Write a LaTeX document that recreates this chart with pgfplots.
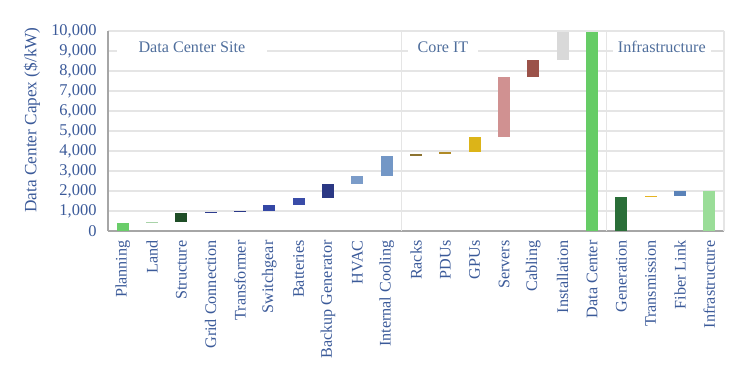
\documentclass[border=0pt]{standalone}
\usepackage{fontspec}
\setmainfont{Liberation Serif}
\usepackage{pgfplots}
\pgfplotsset{compat=1.18}
\definecolor{txt}{HTML}{3B5A99}
\definecolor{grp}{HTML}{4F6E9C}
\definecolor{cPlan}{HTML}{6ACD6A}
\definecolor{cLand}{HTML}{A9D3A9}
\definecolor{cStruct}{HTML}{1E4D26}
\definecolor{cGrid}{HTML}{2E3D8F}
\definecolor{cTrans}{HTML}{2A3888}
\definecolor{cSwitch}{HTML}{3447A5}
\definecolor{cBatt}{HTML}{3A4CA8}
\definecolor{cBackup}{HTML}{2B3884}
\definecolor{cHVAC}{HTML}{7B9CC9}
\definecolor{cCool}{HTML}{7397C6}
\definecolor{cRacks}{HTML}{8C7330}
\definecolor{cPDU}{HTML}{B08A26}
\definecolor{cGPU}{HTML}{DCB418}
\definecolor{cServ}{HTML}{D09191}
\definecolor{cCab}{HTML}{9B5249}
\definecolor{cInst}{HTML}{D9D9D9}
\definecolor{cDC}{HTML}{66CC66}
\definecolor{cGen}{HTML}{2A6E38}
\definecolor{cTx}{HTML}{E6B422}
\definecolor{cFib}{HTML}{5A82B8}
\definecolor{cInfra}{HTML}{9ADD98}
\begin{document}
\begin{tikzpicture}
\path[use as bounding box] (0,0) rectangle (743bp,367bp);
\begin{axis}[
  at={(108bp,136bp)}, anchor=south west,
  scale only axis, width=616bp, height=200bp,
  xmin=-0.5, xmax=20.5, ymin=0, ymax=10000,
  axis x line*=bottom, axis y line*=left,
  axis line style={draw=gray!70, line width=1.2bp},
  major tick length=0pt,
  ytick={0,1000,...,10000},
  scaled y ticks=false,
  /pgf/number format/.cd, 1000 sep={,}, assume math mode=true,
  /pgfplots/.cd,
  yticklabel style={text=txt, font=\fontsize{16.5}{16.5}\selectfont, xshift=-8bp},
  ymajorgrids, major grid style={draw=gray!20, line width=1.4bp},
  xtick={0,...,20},
  xticklabels={Planning, Land, Structure, Grid Connection, Transformer, Switchgear, Batteries, Backup Generator, HVAC, Internal Cooling, Racks, PDUs, GPUs, Servers, Cabling, Installation, Data Center, Generation, Transmission, Fiber Link, Infrastructure},
  xticklabel style={rotate=90, anchor=east, text=txt, font=\fontsize{16.2}{16.2}\selectfont, xshift=-6bp},
  extra x ticks={9.5,16.5,20.5},
  extra x tick labels={},
  extra x tick style={xmajorgrids=true, major grid style={draw=gray!20, line width=1.4bp}},
  clip=false,
]
% waterfall bars: (x-0.2,lo) (x+0.2,lo) (x+0.2,hi) (x-0.2,hi)
\addplot[fill=cPlan, draw=none] coordinates {(-0.2,0) (0.2,0) (0.2,380) (-0.2,380)} --cycle;
\addplot[fill=cLand, draw=none] coordinates {(0.8,380) (1.2,380) (1.2,450) (0.8,450)} --cycle;
\addplot[fill=cStruct, draw=none] coordinates {(1.8,450) (2.2,450) (2.2,890) (1.8,890)} --cycle;
\addplot[fill=cGrid, draw=none] coordinates {(2.8,890) (3.2,890) (3.2,960) (2.8,960)} --cycle;
\addplot[fill=cTrans, draw=none] coordinates {(3.8,960) (4.2,960) (4.2,1010) (3.8,1010)} --cycle;
\addplot[fill=cSwitch, draw=none] coordinates {(4.8,1010) (5.2,1010) (5.2,1300) (4.8,1300)} --cycle;
\addplot[fill=cBatt, draw=none] coordinates {(5.8,1300) (6.2,1300) (6.2,1650) (5.8,1650)} --cycle;
\addplot[fill=cBackup, draw=none] coordinates {(6.8,1650) (7.2,1650) (7.2,2350) (6.8,2350)} --cycle;
\addplot[fill=cHVAC, draw=none] coordinates {(7.8,2350) (8.2,2350) (8.2,2750) (7.8,2750)} --cycle;
\addplot[fill=cCool, draw=none] coordinates {(8.8,2750) (9.2,2750) (9.2,3770) (8.8,3770)} --cycle;
\addplot[fill=cRacks, draw=none] coordinates {(9.8,3770) (10.2,3770) (10.2,3850) (9.8,3850)} --cycle;
\addplot[fill=cPDU, draw=none] coordinates {(10.8,3850) (11.2,3850) (11.2,3940) (10.8,3940)} --cycle;
\addplot[fill=cGPU, draw=none] coordinates {(11.8,3940) (12.2,3940) (12.2,4700) (11.8,4700)} --cycle;
\addplot[fill=cServ, draw=none] coordinates {(12.8,4700) (13.2,4700) (13.2,7680) (12.8,7680)} --cycle;
\addplot[fill=cCab, draw=none] coordinates {(13.8,7680) (14.2,7680) (14.2,8550) (13.8,8550)} --cycle;
\addplot[fill=cInst, draw=none] coordinates {(14.8,8550) (15.2,8550) (15.2,9960) (14.8,9960)} --cycle;
\addplot[fill=cDC, draw=none] coordinates {(15.8,0) (16.2,0) (16.2,9960) (15.8,9960)} --cycle;
\addplot[fill=cGen, draw=none] coordinates {(16.8,0) (17.2,0) (17.2,1700) (16.8,1700)} --cycle;
\addplot[fill=cTx, draw=none] coordinates {(17.8,1710) (18.2,1710) (18.2,1760) (17.8,1760)} --cycle;
\addplot[fill=cFib, draw=none] coordinates {(18.8,1760) (19.2,1760) (19.2,2000) (18.8,2000)} --cycle;
\addplot[fill=cInfra, draw=none] coordinates {(19.8,0) (20.2,0) (20.2,2000) (19.8,2000)} --cycle;
% group labels
\node[fill=white, text=grp, inner xsep=22bp, inner ysep=3bp, font=\fontsize{16.2}{16.2}\selectfont] at (axis cs:2.36,9200) {Data Center Site};
\node[fill=white, text=grp, inner xsep=10bp, inner ysep=3bp, font=\fontsize{16.2}{16.2}\selectfont] at (axis cs:10.92,9200) {Core IT};
\node[fill=white, text=grp, inner xsep=5bp, inner ysep=3bp, font=\fontsize{16.2}{16.2}\selectfont] at (axis cs:18.38,9200) {Infrastructure};
\end{axis}
\node[rotate=90, text=txt, font=\fontsize{17.3}{17.3}\selectfont] at (32bp,247bp) {Data Center Capex (\$/kW)};
\end{tikzpicture}
\end{document}
